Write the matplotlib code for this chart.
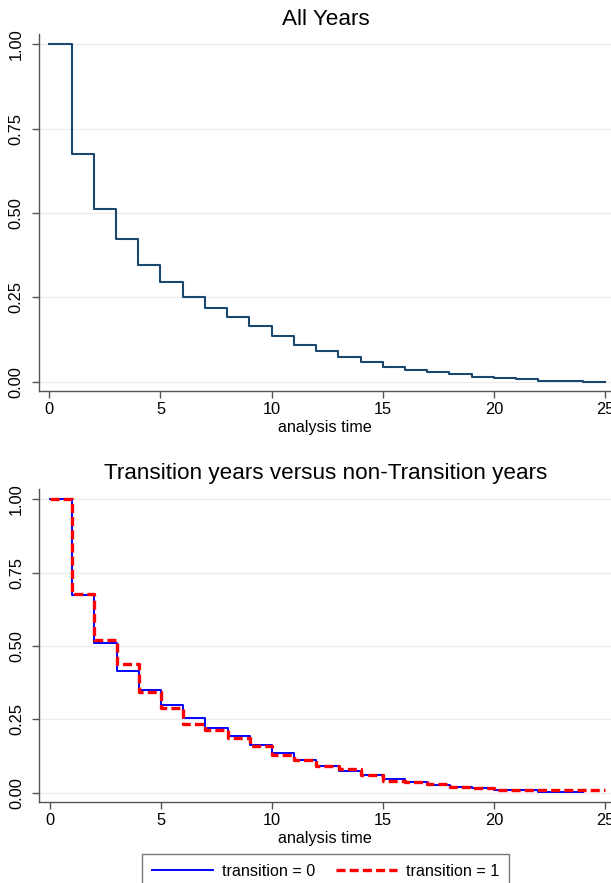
import matplotlib
matplotlib.use("Agg")
import matplotlib.pyplot as plt
import numpy as np

plt.rcParams['font.family'] = ['Liberation Sans', 'DejaVu Sans']
plt.rcParams['lines.scale_dashes'] = False

# Data (survival estimates per yearly interval)
title_top = "All Years"
title_bottom = "Transition years versus non-Transition years"
xlabel = "analysis time"
ytick_vals = [0.0, 0.25, 0.5, 0.75, 1.0]
ytick_labels = ["0.00", "0.25", "0.50", "0.75", "1.00"]
xtick_vals = [0, 5, 10, 15, 20, 25]

all_surv = [1.0, 0.675, 0.511, 0.423, 0.347, 0.296, 0.251, 0.218, 0.193, 0.164,
            0.134, 0.110, 0.090, 0.073, 0.058, 0.044, 0.035, 0.028, 0.022, 0.015,
            0.010, 0.007, 0.003, 0.002, 0.0]
trans0 = [1.0, 0.674, 0.511, 0.416, 0.350, 0.299, 0.256, 0.222, 0.194, 0.164,
          0.136, 0.111, 0.092, 0.074, 0.062, 0.045, 0.036, 0.027, 0.020, 0.015,
          0.009, 0.008, 0.002, 0.002]
trans1 = [1.0, 0.678, 0.519, 0.439, 0.344, 0.288, 0.234, 0.214, 0.185, 0.158,
          0.128, 0.110, 0.092, 0.080, 0.062, 0.040, 0.035, 0.030, 0.020, 0.015,
          0.010, 0.009, 0.009, 0.009, 0.009]
legend_labels = ["transition = 0", "transition = 1"]

W, H = 611, 883
fig = plt.figure(figsize=(W / 100, H / 100), dpi=100)


def px_axes(left, top, right, bottom):
    return fig.add_axes([left / W, (H - bottom) / H, (right - left) / W, (bottom - top) / H])


def style(ax, ylo, yhi):
    ax.set_xlim(-0.48, 25.27)
    ax.set_ylim(ylo, yhi)
    for s in ['top', 'right']:
        ax.spines[s].set_visible(False)
    for s in ['left', 'bottom']:
        ax.spines[s].set_color('#555555')
        ax.spines[s].set_linewidth(1.0)
    ax.set_yticks(ytick_vals)
    ax.set_yticklabels(ytick_labels, rotation=90, va='center', fontsize=11.8)
    ax.set_xticks(xtick_vals)
    ax.set_xticklabels([str(v) for v in xtick_vals], fontsize=11.8)
    ax.tick_params(axis='both', direction='out', length=5, width=1.0, color='#555555')
    ax.tick_params(axis='y', pad=6)
    ax.tick_params(axis='x', pad=3)
    ax.yaxis.grid(True, color='#ececec', linewidth=1.0)
    ax.set_axisbelow(True)
    ax.set_xlabel(xlabel, fontsize=11.6, labelpad=2)


def step_xy(vals):
    t = np.arange(len(vals) + 1)
    y = list(vals) + [vals[-1]]
    return t, y


# Top panel
ax1 = px_axes(38.7, 34, 611, 391)
style(ax1, -0.0276, 1.03)
t, y = step_xy(all_surv)
ax1.step(t, y, where='post', color='#1a476f', linewidth=1.5)
fig.text(326 / W, (H - 25) / H, title_top, ha='center', va='baseline', fontsize=16.2)

# Bottom panel
ax2 = px_axes(39.3, 489.3, 611, 802)
style(ax2, -0.0317, 1.034)
t0, y0 = step_xy(trans0)
t1, y1 = step_xy(trans1)
l0, = ax2.step(t0, y0, where='post', color='#0000ff', linewidth=1.4, label=legend_labels[0])
l1, = ax2.step(t1, y1, where='post', color='#ff0000', linewidth=2.4, dashes=(6.5, 3),
               label=legend_labels[1])
fig.text(326 / W, (H - 479) / H, title_bottom, ha='center', va='baseline', fontsize=16.2)

leg = fig.legend(handles=[l0, l1], labels=legend_labels, loc='upper center',
                 bbox_to_anchor=(325.5 / W, (H - 854) / H), ncol=2, fontsize=11.6,
                 frameon=True, fancybox=False, handlelength=3.8, handletextpad=0.56,
                 columnspacing=1.3, borderpad=0.6, borderaxespad=0)
leg.get_frame().set_edgecolor('#555555')
leg.get_frame().set_linewidth(1.0)

fig.savefig('out.png', dpi=100)
